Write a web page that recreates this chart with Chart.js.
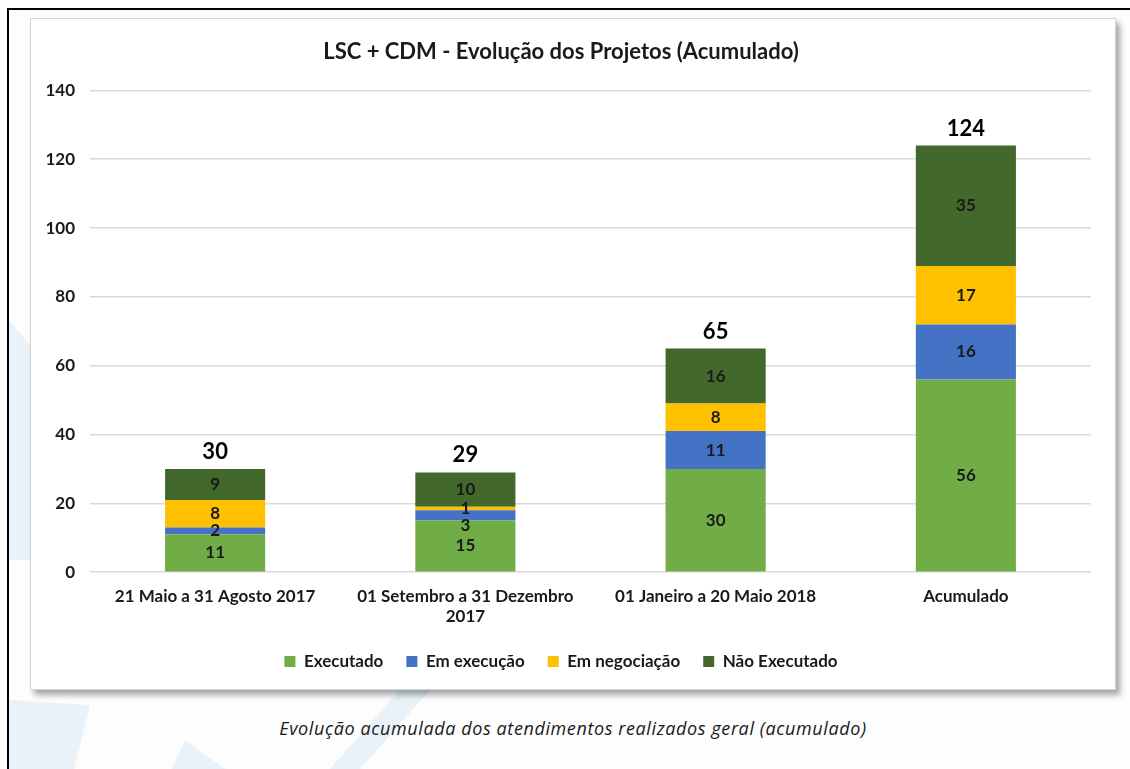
<!DOCTYPE html>
<html>
<head>
<meta charset="utf-8">
<script src="https://cdn.jsdelivr.net/npm/chart.js@4"></script>
<style>
    body { margin: 0; background: #fdfdfd; width: 1130px; height: 769px; overflow: hidden; position: relative; font-family: Lato, sans-serif; }
    .frame-top { position: absolute; left: 7px; top: 8px; width: 1123px; height: 2px; background: #000; }
    .frame-left { position: absolute; left: 7px; top: 8px; width: 2px; height: 761px; background: #000; }
    .deco { position: absolute; left: 0; top: 0; }
    .chart-box { position: absolute; left: 30px; top: 18px; width: 1084px; height: 670px; background: #fff; border: 1px solid #d4d4d4; box-shadow: 4px 5px 6px rgba(0,0,0,0.35); }
    .caption { position: absolute; left: 31px; width: 1084px; top: 716px; text-align: center; font-family: "Open Sans", sans-serif; font-style: italic; font-size: 18px; letter-spacing: 0.6px; color: #1a1a1a; }
</style>
</head>
<body>
<svg class="deco" width="1130" height="769">
    <polygon points="9,320 30,345 30,560 9,560" fill="#e8f2f8"/>
    <polygon points="9,700 90,705 74,769 9,769" fill="#e8f2f8"/>
    <polygon points="185,740 225,769 172,769" fill="#e8f2f8"/>
    <polygon points="400,690 430,690 360,769 330,769" fill="#e8f2f8"/>
</svg>
<div class="frame-top"></div>
<div class="frame-left"></div>
<div class="chart-box"><canvas id="chart"></canvas></div>
<div class="caption">Evolução acumulada dos atendimentos realizados geral (acumulado)</div>

<script>
const categories = [
    '21 Maio a 31 Agosto 2017',
    ['01 Setembro a 31 Dezembro', '2017'],
    '01 Janeiro a 20 Maio 2018',
    'Acumulado'
];
const executado = [11, 15, 30, 56];
const emExecucao = [2, 3, 11, 16];
const emNegociacao = [8, 1, 8, 17];
const naoExecutado = [9, 10, 16, 35];

const seriesNames = ['Executado', 'Em execução', 'Em negociação', 'Não Executado'];
const seriesColors = ['#70ad47', '#4472c4', '#ffc000', '#43682b'];
const seriesData = [executado, emExecucao, emNegociacao, naoExecutado];

const yMax = 140;
const yStep = 20;

// segment values + totals on top of each stack
const stackLabels = {
    id: 'stackLabels',
    afterDatasetsDraw(chart) {
        const ctx = chart.ctx;
        ctx.save();
        ctx.textAlign = 'center';
        ctx.textBaseline = 'middle';
        categories.forEach((c, i) => {
            let prevY = -Infinity;
            let topY = Infinity;
            let total = 0;
            let x = 0;
            ctx.fillStyle = '#1a1a1a';
            for (let d = chart.data.datasets.length - 1; d >= 0; d--) {
                const bar = chart.getDatasetMeta(d).data[i];
                const v = chart.data.datasets[d].data[i];
                total += v;
                x = bar.x;
                topY = Math.min(topY, bar.y);
                let y = (bar.y + bar.base) / 2;
                if (y < prevY + 17) y = prevY + 17;
                prevY = y;
                ctx.font = 'bold 17px Lato';
                ctx.fillText(v, bar.x, y);
            }
            ctx.font = 'bold 22px Lato';
            ctx.fillStyle = '#000';
            ctx.fillText(total, x, topY - 17);
        });
        ctx.restore();
    }
};

const ctx = document.getElementById('chart').getContext('2d');
new Chart(ctx, {
    type: 'bar',
    data: {
        labels: categories,
        datasets: seriesNames.map((name, k) => ({
            label: name,
            data: seriesData[k],
            backgroundColor: seriesColors[k],
            borderWidth: 0,
            categoryPercentage: 1,
            barPercentage: 0.4
        }))
    },
    plugins: [stackLabels],
    options: {
        responsive: true,
        maintainAspectRatio: false,
        animation: false,
        layout: { padding: { left: 0, right: 24, top: 0, bottom: 9 } },
        plugins: {
            title: {
                display: true,
                text: 'LSC + CDM - Evolução dos Projetos (Acumulado)',
                color: '#1a1a1a',
                font: { family: 'Lato', size: 22, weight: 'bold' },
                padding: { top: 20, bottom: 25 }
            },
            legend: {
                position: 'bottom',
                labels: {
                    boxWidth: 11,
                    boxHeight: 11,
                    padding: 23,
                    color: '#1a1a1a',
                    font: { family: 'Lato', size: 17, weight: 'bold' }
                }
            },
            tooltip: { enabled: false }
        },
        scales: {
            x: {
                stacked: true,
                afterFit: s => { s.height -= 3; },
                grid: { display: false },
                border: { display: false },
                ticks: {
                    color: '#1a1a1a',
                    maxRotation: 0,
                    padding: 6,
                    font: { family: 'Lato', size: 17, weight: 'bold' }
                }
            },
            y: {
                stacked: true,
                min: 0,
                max: yMax,
                afterFit: s => { s.width = 59; },
                grid: { color: '#d9d9d9', lineWidth: 1.5, drawTicks: false },
                border: { display: false },
                ticks: {
                    stepSize: yStep,
                    color: '#1a1a1a',
                    padding: 15,
                    font: { family: 'Lato', size: 17, weight: 'bold' }
                }
            }
        }
    }
});
</script>
</body>
</html>
